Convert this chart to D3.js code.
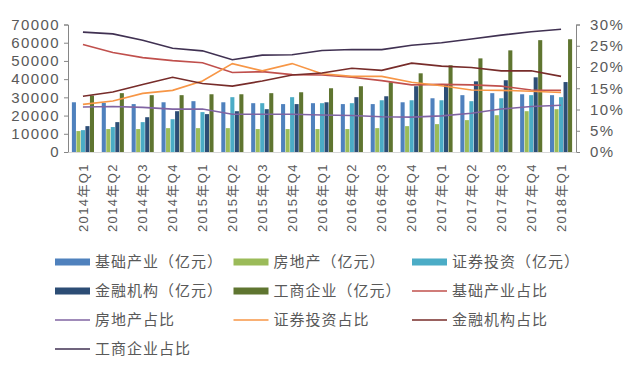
<!DOCTYPE html>
<html>
<head>
<meta charset="utf-8">
<script src="https://cdn.jsdelivr.net/npm/d3@7"></script>
<style>
  body { margin: 0; background: #fff; }
  text { font-family: "Liberation Sans", "Noto Sans CJK SC", sans-serif; fill: #595959; }
</style>
</head>
<body>
<script>
const width = 633;
const height = 373;
const margin = { l: 68, r: 57, t: 24.5, b: 221 };

const categories = ["2014年Q1", "2014年Q2", "2014年Q3", "2014年Q4", "2015年Q1", "2015年Q2", "2015年Q3", "2015年Q4",
  "2016年Q1", "2016年Q2", "2016年Q3", "2016年Q4", "2017年Q1", "2017年Q2", "2017年Q3", "2017年Q4", "2018年Q1"];

// bar series (亿元)
const jichu = [27300, 27000, 26300, 27300, 27900, 27300, 26800, 26300, 26800, 26300, 26300, 27300, 29500, 31200, 32300, 31700, 31200];
const fangdichan = [11500, 12600, 12600, 13100, 13100, 13100, 12600, 12600, 12600, 12600, 13100, 14200, 15300, 17500, 20200, 22400, 23500];
const zhengquan = [12000, 13700, 16400, 18000, 21900, 30100, 26800, 30100, 26800, 26800, 28400, 28400, 28400, 27900, 29500, 31200, 30100];
const jinrong = [14200, 16400, 19100, 22400, 20800, 22400, 23500, 26300, 27300, 30100, 30600, 36100, 37200, 38800, 39400, 41000, 38400];
const gongshang = [31000, 32300, 31200, 31200, 31700, 31700, 32300, 32800, 35000, 36100, 38300, 43200, 47600, 51400, 55800, 61400, 61900];

// line series (占比, %)
const jichuPct = [25.3, 23.4, 22.2, 21.5, 21.0, 18.7, 18.9, 18.2, 18.1, 17.6, 16.8, 15.8, 15.9, 15.8, 15.5, 14.6, 14.5];
const fangdichanPct = [10.6, 10.7, 10.5, 10.1, 10.1, 8.9, 8.9, 8.9, 8.7, 8.6, 8.3, 8.2, 8.5, 9.1, 10.1, 10.7, 11.0];
const zhengquanPct = [11.2, 12.0, 13.8, 14.5, 16.7, 20.8, 19.1, 20.8, 18.4, 17.8, 17.8, 16.4, 15.6, 14.6, 14.5, 14.3, 14.0];
const jinrongPct = [13.1, 14.1, 15.9, 17.6, 16.1, 15.5, 16.7, 18.1, 18.6, 19.7, 19.2, 20.9, 20.2, 19.9, 19.1, 19.1, 17.8];
const gongshangPct = [28.2, 27.8, 26.3, 24.4, 23.8, 21.7, 22.8, 22.9, 23.9, 24.1, 24.1, 25.1, 25.7, 26.6, 27.5, 28.3, 28.9];

const leftTicks = [0, 10000, 20000, 30000, 40000, 50000, 60000, 70000];
const rightTicks = [0, 0.05, 0.10, 0.15, 0.20, 0.25, 0.30];

const barSeries = [
  { name: "基础产业（亿元）", values: jichu, color: "#4F81BD" },
  { name: "房地产（亿元）", values: fangdichan, color: "#9BBB59" },
  { name: "证券投资（亿元）", values: zhengquan, color: "#4BACC6" },
  { name: "金融机构（亿元）", values: jinrong, color: "#2C4D75" },
  { name: "工商企业（亿元）", values: gongshang, color: "#5F7530" },
];
const lineSeries = [
  { name: "基础产业占比", values: jichuPct, color: "#C0504D" },
  { name: "房地产占比", values: fangdichanPct, color: "#8064A2" },
  { name: "证券投资占比", values: zhengquanPct, color: "#F79646" },
  { name: "金融机构占比", values: jinrongPct, color: "#772C2A" },
  { name: "工商企业占比", values: gongshangPct, color: "#403152" },
];

const svg = d3.select("body").append("svg")
  .attr("width", width)
  .attr("height", height);

const x0 = d3.scaleBand().domain(categories).range([margin.l, width - margin.r]);
const x1 = d3.scaleBand().domain(d3.range(barSeries.length))
  .range([x0.bandwidth() * 0.13, x0.bandwidth() * 0.87]).paddingInner(0.1);
const yL = d3.scaleLinear().domain([0, 70000]).range([height - margin.b + 152 - 152, margin.t]);
yL.range([152, margin.t]);
const yR = d3.scaleLinear().domain([0, 0.30]).range([152, margin.t]);

// bars
const groups = svg.append("g").selectAll("g")
  .data(categories).join("g")
  .attr("transform", d => `translate(${x0(d)},0)`);
barSeries.forEach((s, si) => {
  groups.append("rect")
    .attr("x", x1(si))
    .attr("width", x1.bandwidth())
    .attr("y", (d, i) => yL(s.values[i]))
    .attr("height", (d, i) => yL(0) - yL(s.values[i]))
    .attr("fill", s.color);
});

// lines
const line = d3.line().x((d, i) => x0(categories[i]) + x0.bandwidth() / 2).y(d => yR(d / 100));
lineSeries.forEach(s => {
  svg.append("path")
    .attr("d", line(s.values))
    .attr("fill", "none")
    .attr("stroke", s.color)
    .attr("stroke-width", 1.6);
});

// axes
const axisLeft = svg.append("g").attr("transform", `translate(${margin.l},0)`)
  .call(d3.axisLeft(yL).tickValues(leftTicks).tickSize(4).tickPadding(4).tickFormat(d3.format("d")));
const axisRight = svg.append("g").attr("transform", `translate(${width - margin.r},0)`)
  .call(d3.axisRight(yR).tickValues(rightTicks).tickSize(4).tickPadding(10).tickFormat(d3.format(".0%")));
[axisLeft, axisRight].forEach(a => {
  a.select(".domain").attr("stroke", "#868686");
  a.selectAll(".tick line").attr("stroke", "#868686");
  a.selectAll("text").style("font-size", "15px").style("letter-spacing", "1.4px").attr("fill", "#595959");
});

const axisBottom = svg.append("g").attr("transform", `translate(0,152)`)
  .call(d3.axisBottom(x0).tickSize(0).tickPadding(0));
axisBottom.select(".domain").attr("stroke", "#D9D9D9");
axisBottom.selectAll("text")
  .attr("transform", "rotate(-90)")
  .attr("text-anchor", "end")
  .attr("x", -11)
  .attr("y", 0)
  .attr("dy", "0.35em")
  .style("font-size", "13px")
  .style("letter-spacing", "1.4px")
  .attr("fill", "#595959");

// legend
const legendItems = barSeries.map(s => ({ ...s, type: "bar" }))
  .concat(lineSeries.map(s => ({ ...s, type: "line" })));
const legend = svg.append("g");
legendItems.forEach((item, i) => {
  const col = i % 3, row = Math.floor(i / 3);
  const g = legend.append("g").attr("transform", `translate(${55 + col * 178.5},${262 + row * 29})`);
  if (item.type === "bar") {
    g.append("rect").attr("x", 0).attr("y", -3.5).attr("width", 35).attr("height", 7).attr("fill", item.color);
  } else {
    g.append("line").attr("x1", 0).attr("x2", 35).attr("y1", 0).attr("y2", 0)
      .attr("stroke", item.color).attr("stroke-width", 1.6);
  }
  g.append("text").attr("x", 40).attr("y", 0).attr("dy", "0.35em")
    .style("font-size", "15px").style("letter-spacing", "1px")
    .text(item.name);
});
</script>
</body>
</html>
